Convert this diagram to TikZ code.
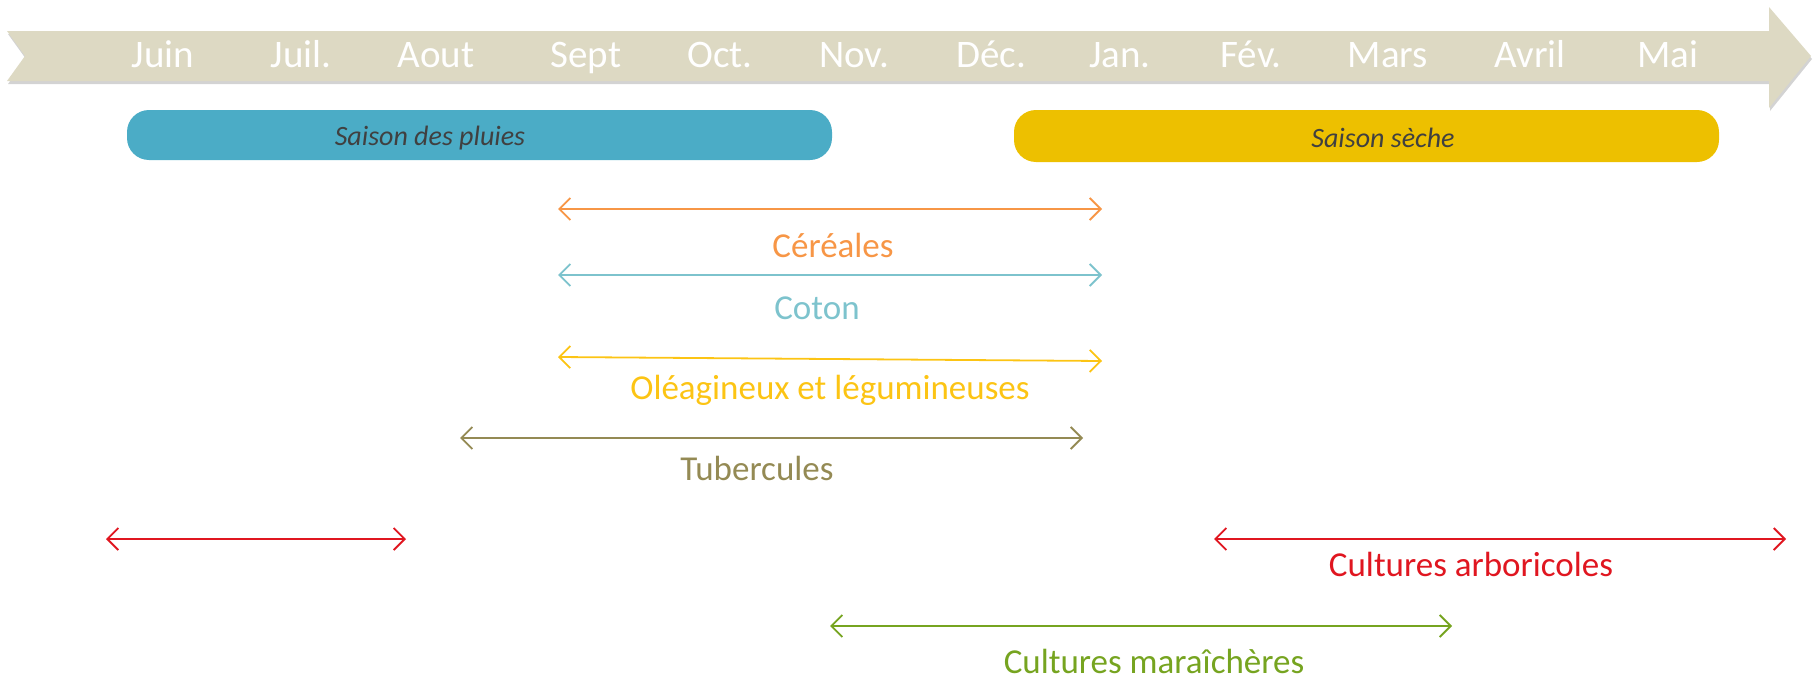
\documentclass[tikz,border=0pt]{standalone}
\usepackage{fontspec}
\setmainfont{Carlito}
\usetikzlibrary{arrows.meta,shadows}
\definecolor{bannertan}{RGB}{221,217,195}
\definecolor{rainblue}{RGB}{75,172,198}
\definecolor{dryyellow}{RGB}{237,192,0}
\definecolor{seasongray}{RGB}{64,64,64}
\definecolor{cerorange}{RGB}{247,150,70}
\definecolor{cotonteal}{RGB}{125,195,205}
\definecolor{oleoyellow}{RGB}{252,196,20}
\definecolor{tuberolive}{RGB}{148,138,84}
\definecolor{arbored}{RGB}{224,22,32}
\definecolor{maragreen}{RGB}{118,164,32}

\begin{document}
\begin{tikzpicture}[
    x=1pt, y=-1pt,
    month/.style={text=white, font=\fontsize{39}{40}\selectfont, inner sep=0pt, anchor=base},
    season/.style={rounded corners=22pt, minimum width=705pt, minimum height=50pt, inner sep=0pt},
    seasonlbl/.style={text=seasongray, font=\fontsize{28}{30}\selectfont\itshape, inner sep=0pt},
    period/.style={{Straight Barb[length=11pt,width=22pt]}-{Straight Barb[length=11pt,width=22pt]},
      line width=1.8pt},
    croplbl/.style={font=\fontsize{35}{36}\selectfont, inner sep=0pt}
  ]
  \useasboundingbox (0,0) rectangle (1813,680);

  % timeline banner
  \fill[bannertan, drop shadow={shadow xshift=1pt, shadow yshift=-3pt, opacity=0.35}]
    (7,31) -- (1769,31) -- (1769,7) -- (1811,56) -- (1769,108) -- (1769,81)
    -- (7,81) -- (25,56) -- cycle;
  \foreach \m/\x in {Juin/163, Juil./301, Aout/436, Sept/586, Oct./720, Nov./854,
      Déc./991, Jan./1120, Fév./1251, Mars/1388, Avril/1530, Mai/1668}
    \node[month] (m\x) at (\x,67) {\m};

  % seasons
  \node[season, fill=rainblue] (pluies) at (479.5,135) {};
  \node[season, fill=dryyellow, minimum height=52pt] (seche) at (1366.5,136) {};
  \node[seasonlbl] (pluiesT) at (430,138) {Saison des pluies};
  \node[seasonlbl] (secheT) at (1383,138) {Saison sèche};

  % crop periods
  \coordinate (cerL) at (558,209);
  \coordinate (cerR) at (1102,209);
  \draw[period, cerorange] (cerL) -- (cerR);
  \node[croplbl, text=cerorange] (cerT) at (833,245) {Céréales};

  \coordinate (cotL) at (558,275);
  \coordinate (cotR) at (1102,275);
  \draw[period, cotonteal] (cotL) -- (cotR);
  \node[croplbl, text=cotonteal] (cotT) at (817,308) {Coton};

  \coordinate (oleL) at (558,357);
  \coordinate (oleR) at (1102,361);
  \draw[period, oleoyellow] (oleL) -- (oleR);
  \node[croplbl, text=oleoyellow] (oleT) at (830,390) {Oléagineux et légumineuses};

  \coordinate (tubL) at (460,438);
  \coordinate (tubR) at (1083,438);
  \draw[period, tuberolive] (tubL) -- (tubR);
  \node[croplbl, text=tuberolive] (tubT) at (757,468) {Tubercules};

  \coordinate (arbL1) at (106,539);
  \coordinate (arbR1) at (406,539);
  \draw[period, arbored] (arbL1) -- (arbR1);
  \coordinate (arbL2) at (1214,539);
  \coordinate (arbR2) at (1786,539);
  \draw[period, arbored] (arbL2) -- (arbR2);
  \node[croplbl, text=arbored] (arbT) at (1471,564) {Cultures arboricoles};

  \coordinate (marL) at (830,626);
  \coordinate (marR) at (1452,626);
  \draw[period, maragreen] (marL) -- (marR);
  \node[croplbl, text=maragreen] (marT) at (1154,661) {Cultures maraîchères};
\end{tikzpicture}
\end{document}
